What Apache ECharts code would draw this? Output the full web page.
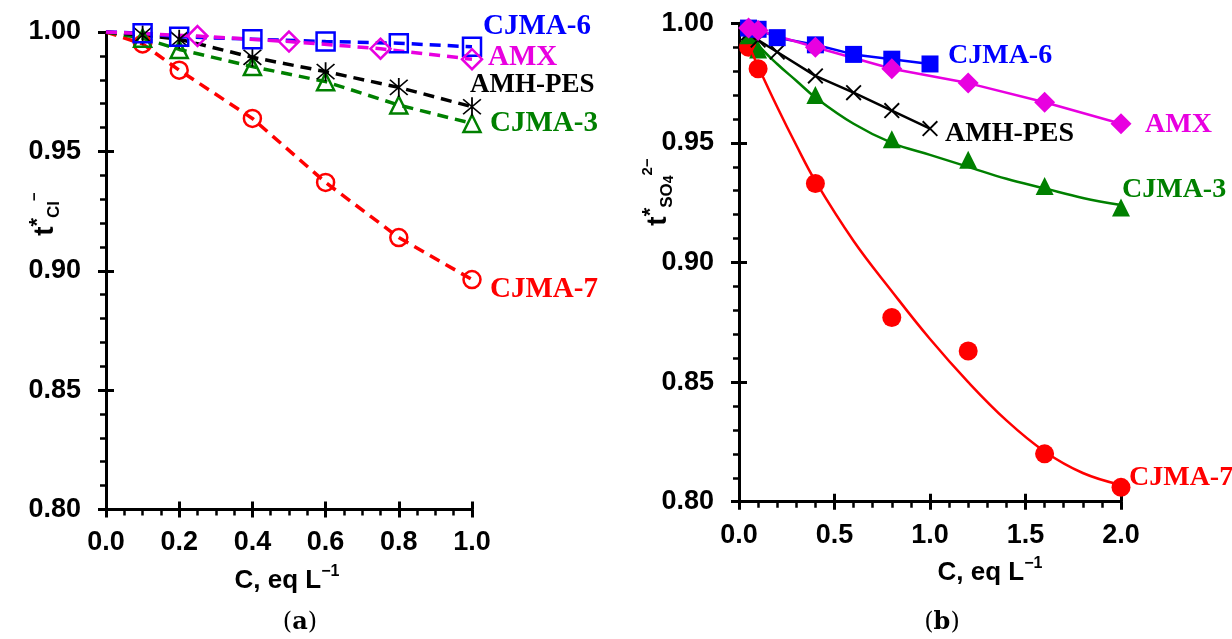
<!DOCTYPE html>
<html><head><meta charset="utf-8">
<script src="https://cdn.jsdelivr.net/npm/echarts@6/dist/echarts.min.js"></script>
<style>html,body{margin:0;padding:0;background:#fff}#c{width:1232px;height:639px}</style>
</head><body><div id="c"></div>
<script>
// ---------- data ----------
const leftStart = [0, 1.0];
const leftX = [0.1, 0.2, 0.4, 0.6, 0.8, 1.0];
const leftXAmx = [0.25, 0.5, 0.75, 1.0];
const leftCJMA6 = [0.9995, 0.998, 0.997, 0.996, 0.9953, 0.9938];
const leftAMX = [0.9983, 0.996, 0.993, 0.9886];
const leftAMHPES = [0.9987, 0.997, 0.9894, 0.9834, 0.9768, 0.9687];
const leftCJMA3 = [0.9974, 0.9927, 0.9855, 0.9792, 0.9694, 0.9617];
const leftCJMA7 = [0.995, 0.984, 0.9638, 0.937, 0.9139, 0.8963];

const rightX6 = [0.05, 0.1, 0.2, 0.4, 0.6, 0.8, 1.0];
const rightCJMA6 = [0.998, 0.9975, 0.994, 0.991, 0.987, 0.985, 0.983];
const rightXAmx = [0.05, 0.1, 0.4, 0.8, 1.2, 1.6, 2.0];
const rightAMX = [0.998, 0.997, 0.990, 0.981, 0.975, 0.967, 0.958];
const rightXPes = [0.05, 0.1, 0.2, 0.4, 0.6, 0.8, 1.0];
const rightAMHPES = [0.996, 0.993, 0.988, 0.978, 0.971, 0.9635, 0.956];
const rightXPts = [0.05, 0.1, 0.4, 0.8, 1.2, 1.6, 2.0];
const rightCJMA3 = [0.995, 0.989, 0.970, 0.9515, 0.943, 0.932, 0.923];
const rightCJMA7 = [0.990, 0.981, 0.933, 0.877, 0.863, 0.820, 0.806];
const fitX = [0.05, 0.1, 0.2, 0.3, 0.4, 0.6, 0.8, 1.0, 1.2, 1.4, 1.6, 1.8, 2.0];
const fitCJMA3 = [0.997, 0.991, 0.983, 0.976, 0.969, 0.958, 0.950, 0.945, 0.940, 0.935, 0.931, 0.927, 0.924];
const fitCJMA7 = [0.991, 0.982, 0.965, 0.949, 0.934, 0.909, 0.888, 0.868, 0.850, 0.834, 0.821, 0.812, 0.807];

const yTicks = {min: 0.80, max: 1.00, interval: 0.05};
const leftXTicks = {min: 0, max: 1.0, interval: 0.2};
const rightXTicks = {min: 0, max: 2.0, interval: 0.5};

// ---------- styling ----------
const BLUE = '#0000ff', MAG = '#e800e0', BLK = '#000000', GRN = '#008000', RED = '#ff0000';
const ASTER = 'path://M9.2,0 L10.8,0 L10.8,20 L9.2,20 Z M1.5,2.6 L2.6,1.5 L18.5,17.4 L17.4,18.5 Z M17.4,1.5 L18.5,2.6 L2.6,18.5 L1.5,17.4 Z';
const CROSS = 'path://M1,2.5 L2.5,1 L19,17.5 L17.5,19 Z M17.5,1 L19,2.5 L2.5,19 L1,17.5 Z';
const tickFont = {fontFamily: 'Liberation Sans', fontWeight: 'bold', fontSize: 27, color: '#000'};

function pairs(xs, ys) { return xs.map((x, i) => [x, ys[i]]); }
function withStart(xs, ys) { return [{value: leftStart, symbol: 'none'}].concat(pairs(xs, ys)); }

function xAx(gi, t, overlay) {
  if (overlay) return {type: 'value', gridIndex: gi, min: t.min, max: t.max, interval: t.interval, position: 'bottom',
    axisLine: {show: false}, axisTick: {show: true, inside: true, length: 8, lineStyle: {color: '#000', width: 3}},
    minorTick: {show: false}, axisLabel: {show: false}, splitLine: {show: false}};
  return {type: 'value', gridIndex: gi, min: t.min, max: t.max, interval: t.interval, position: 'bottom',
    axisLine: {show: true, onZero: false, lineStyle: {color: '#000', width: 3}},
    axisTick: {show: true, inside: false, length: 8, lineStyle: {color: '#000', width: 3}},
    minorTick: {show: true, splitNumber: gi === 0 ? 4 : 5, length: 6, lineStyle: {color: '#000', width: 2.5}},
    splitLine: {show: false}, minorSplitLine: {show: false},
    axisLabel: Object.assign({margin: 20, formatter: v => v.toFixed(1)}, tickFont)};
}
function yAx(gi, t, overlay) {
  if (overlay) return {type: 'value', gridIndex: gi, min: t.min, max: t.max, interval: t.interval, position: 'left',
    axisLine: {show: false}, axisTick: {show: true, inside: true, length: 8, lineStyle: {color: '#000', width: 3}},
    minorTick: {show: false}, axisLabel: {show: false}, splitLine: {show: false}};
  return {type: 'value', gridIndex: gi, min: t.min, max: t.max, interval: t.interval, position: 'left',
    axisLine: {show: true, onZero: false, lineStyle: {color: '#000', width: 3}},
    axisTick: {show: true, inside: false, length: 8, lineStyle: {color: '#000', width: 3}},
    minorTick: {show: true, splitNumber: 5, length: 6, lineStyle: {color: '#000', width: 2.5}},
    splitLine: {show: false}, minorSplitLine: {show: false},
    axisLabel: Object.assign({margin: 25, formatter: v => v.toFixed(2)}, tickFont)};
}

function leftSeries(name, data, color, symbol, size, filledPath) {
  return {name, type: 'line', xAxisIndex: 0, yAxisIndex: 0, data, symbol, symbolSize: size, clip: false,
    itemStyle: filledPath ? {color, borderWidth: 0} : {color: 'transparent', borderColor: color, borderWidth: 2.5},
    lineStyle: {color, width: 3.5, type: [11, 7]}};
}
function rightLine(name, data, color, symbol, size) {
  return {name, type: 'line', xAxisIndex: 1, yAxisIndex: 1, data, symbol, symbolSize: size, clip: false,
    itemStyle: {color, opacity: 1}, lineStyle: {color, width: 2.5}};
}
function rightFit(name, data, color) {
  return {name, type: 'line', xAxisIndex: 1, yAxisIndex: 1, data, symbol: 'none', smooth: 0.4, clip: false,
    lineStyle: {color, width: 2.5}};
}
function rightPts(name, data, color, symbol, size) {
  return {name, type: 'scatter', xAxisIndex: 1, yAxisIndex: 1, data, symbol, symbolSize: size, clip: false,
    itemStyle: {color, opacity: 1}};
}

function lab(text, x, y, color, size) {
  return {type: 'text', x, y, style: {text, fill: color, align: 'left', verticalAlign: 'middle',
    fontFamily: 'Liberation Serif', fontWeight: 'bold', fontSize: size}};
}
const sansB = 'Liberation Sans';
function xTitle(cx, cy) {
  return {type: 'text', x: cx, y: cy, style: {text: '{m|C, eq L}{s|\u22121}', align: 'center', verticalAlign: 'middle',
    rich: {m: {fontFamily: sansB, fontWeight: 'bold', fontSize: 26, lineHeight: 30, fill: '#000', verticalAlign: 'bottom'},
           s: {fontFamily: sansB, fontWeight: 'bold', fontSize: 16, lineHeight: 16, fill: '#000', verticalAlign: 'top'}}}};
}
function panelTag(letter, cx, cy) {
  return {type: 'text', x: cx, y: cy, style: {text: '{p|(}{b|' + letter + '}{p|)}', align: 'center', verticalAlign: 'middle',
    rich: {p: {fontFamily: 'DejaVu Serif', fontSize: 24, fill: '#000'},
           b: {fontFamily: 'DejaVu Serif', fontWeight: 'bold', fontSize: 24, fill: '#000'}}}};
}

const option = {
  animation: false,
  backgroundColor: '#fff',
  grid: [
    {left: 106, top: 32, width: 366, height: 477.5},
    {left: 739, top: 23.3, width: 382, height: 478.4}
  ],
  xAxis: [xAx(0, leftXTicks), xAx(1, rightXTicks), xAx(0, leftXTicks, true), xAx(1, rightXTicks, true)],
  yAxis: [yAx(0, yTicks), yAx(1, yTicks), yAx(0, yTicks, true), yAx(1, yTicks, true)],
  series: [
    leftSeries('CJMA-7', withStart(leftX, leftCJMA7), RED, 'circle', 17),
    leftSeries('CJMA-3', withStart(leftX, leftCJMA3), GRN, 'triangle', 17),
    leftSeries('AMH-PES', withStart(leftX, leftAMHPES), BLK, ASTER, 19, true),
    leftSeries('CJMA-6', withStart(leftX, leftCJMA6), BLUE, 'rect', 18),
    leftSeries('AMX', withStart(leftXAmx, leftAMX), MAG, 'diamond', 20),

    rightFit('CJMA-7 fit', pairs(fitX, fitCJMA7), RED),
    rightPts('CJMA-7', pairs(rightXPts, rightCJMA7), RED, 'circle', 19),
    rightFit('CJMA-3 fit', pairs(fitX, fitCJMA3), GRN),
    rightPts('CJMA-3', pairs(rightXPts, rightCJMA3), GRN, 'triangle', 18),
    rightLine('AMH-PES', pairs(rightXPes, rightAMHPES), BLK, CROSS, 16),
    rightLine('CJMA-6', pairs(rightX6, rightCJMA6), BLUE, 'rect', 17),
    rightLine('AMX', pairs(rightXAmx, rightAMX), MAG, 'diamond', 21)
  ],
  graphic: [
    lab('CJMA-6', 483, 27, BLUE, 29),
    lab('AMX', 488, 58, MAG, 29),
    lab('AMH-PES', 470, 85, BLK, 27),
    lab('CJMA-3', 490, 124, GRN, 29),
    lab('CJMA-7', 490, 290, RED, 29),
    lab('CJMA-6', 948, 56, BLUE, 28),
    lab('AMX', 1145, 125, MAG, 28),
    lab('AMH-PES', 945, 134, BLK, 28),
    lab('CJMA-3', 1122, 190, GRN, 28),
    lab('CJMA-7', 1129, 478, RED, 28),
    xTitle(287, 579),
    xTitle(990, 571),
    panelTag('a', 300, 623),
    panelTag('b', 942, 623),
    {type: 'text', x: 45, y: 214, rotation: Math.PI / 2,
      style: {text: '{t|t}{st|*}{sb|Cl}{sp|\u2212}', align: 'center', verticalAlign: 'middle',
        rich: {t: {fontFamily: sansB, fontWeight: 'bold', fontSize: 28, lineHeight: 36, fill: '#000'},
               st: {fontFamily: sansB, fontWeight: 'bold', fontSize: 22, lineHeight: 22, verticalAlign: 'top', fill: '#000'},
               sb: {fontFamily: sansB, fontWeight: 'bold', fontSize: 17, lineHeight: 17, verticalAlign: 'bottom', fill: '#000'},
               sp: {fontFamily: sansB, fontWeight: 'bold', fontSize: 15, lineHeight: 15, verticalAlign: 'top', fill: '#000'}}}},
    {type: 'text', x: 658, y: 192, rotation: Math.PI / 2,
      style: {text: '{t|t}{st|*}{sb|SO}{sb2|4}{sp|2\u2212}', align: 'center', verticalAlign: 'middle',
        rich: {t: {fontFamily: sansB, fontWeight: 'bold', fontSize: 28, lineHeight: 36, fill: '#000'},
               st: {fontFamily: sansB, fontWeight: 'bold', fontSize: 22, lineHeight: 22, verticalAlign: 'top', fill: '#000'},
               sb: {fontFamily: sansB, fontWeight: 'bold', fontSize: 17, lineHeight: 17, verticalAlign: 'bottom', fill: '#000'},
               sb2: {fontFamily: sansB, fontWeight: 'bold', fontSize: 14, lineHeight: 8, verticalAlign: 'bottom', fill: '#000'},
               sp: {fontFamily: sansB, fontWeight: 'bold', fontSize: 15, lineHeight: 15, verticalAlign: 'top', fill: '#000'}}}}
  ]
};

const chart = echarts.init(document.getElementById('c'), null, {renderer: 'canvas'});
chart.setOption(option);
</script>
</body></html>
